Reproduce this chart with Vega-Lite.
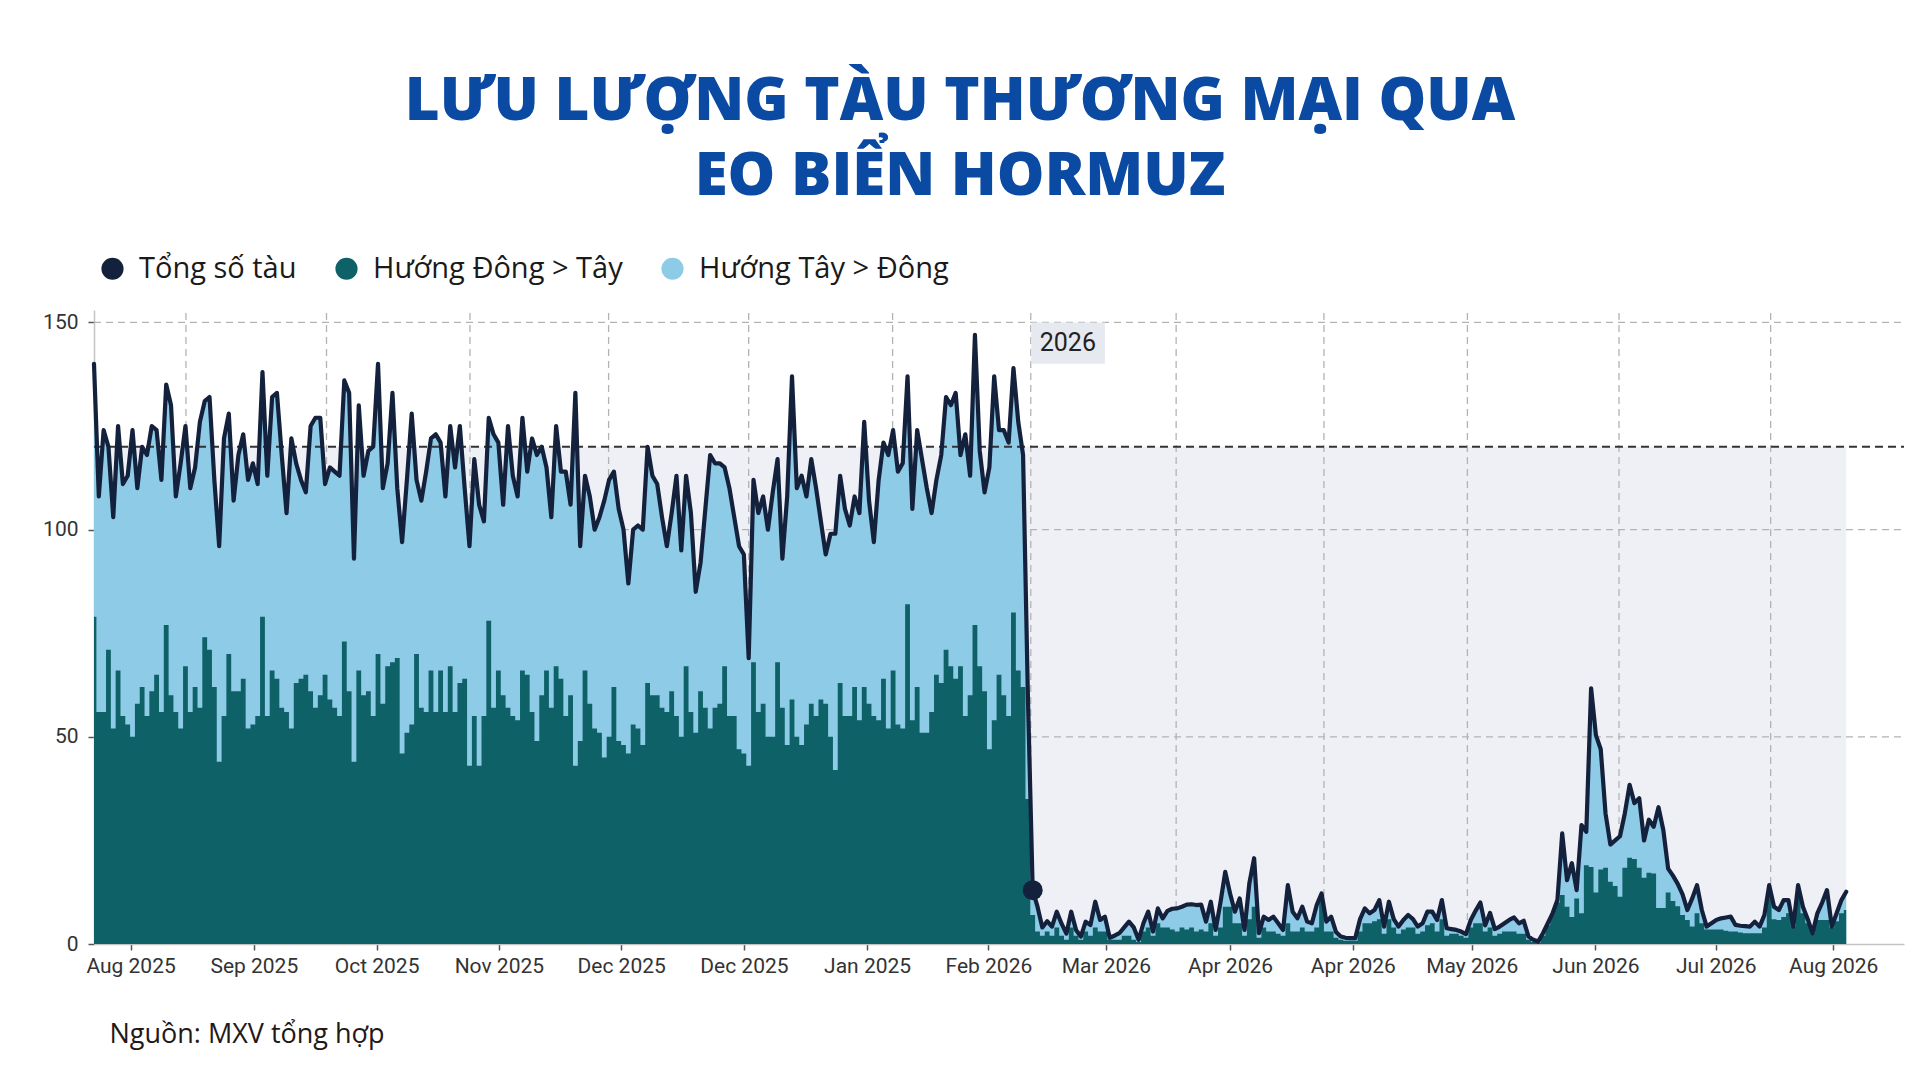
{
"$schema": "https://vega.github.io/schema/vega-lite/v6.json",
"width": 1810, "height": 634,
"autosize": {"type": "none"},
"padding": {"left": 94, "top": 310, "right": 16, "bottom": 136},
"background": "white",
"title": {"text": ["LƯU LƯỢNG TÀU THƯƠNG MẠI QUA", "EO BIỂN HORMUZ"], "font": "Open Sans", "fontSize": 60, "fontWeight": 800, "color": "#0b4aa2", "anchor": "middle", "frame": "group", "dx": -39, "dy": 14, "lineHeight": 75, "offset": 60},
"config": {"view": {"stroke": null}},
"datasets": {
"s": [
{"i":0,"e":79,"t":140},{"i":1,"e":56,"t":108},{"i":2,"e":56,"t":124},{"i":3,"e":71,"t":120},{"i":4,"e":52,"t":103},{"i":5,"e":66,"t":125},{"i":6,"e":55,"t":111},{"i":7,"e":53,"t":113},{"i":8,"e":50,"t":124},{"i":9,"e":58,"t":110},
{"i":10,"e":62,"t":120},{"i":11,"e":55,"t":118},{"i":12,"e":61,"t":125},{"i":13,"e":65,"t":124},{"i":14,"e":56,"t":112},{"i":15,"e":77,"t":135},{"i":16,"e":60,"t":130},{"i":17,"e":56,"t":108},{"i":18,"e":52,"t":116},{"i":19,"e":67,"t":125},
{"i":20,"e":56,"t":110},{"i":21,"e":62,"t":115},{"i":22,"e":57,"t":126},{"i":23,"e":74,"t":131},{"i":24,"e":71,"t":132},{"i":25,"e":62,"t":112},{"i":26,"e":44,"t":96},{"i":27,"e":55,"t":122},{"i":28,"e":70,"t":128},{"i":29,"e":61,"t":107},
{"i":30,"e":61,"t":118},{"i":31,"e":64,"t":123},{"i":32,"e":52,"t":112},{"i":33,"e":53,"t":116},{"i":34,"e":55,"t":111},{"i":35,"e":79,"t":138},{"i":36,"e":55,"t":113},{"i":37,"e":66,"t":132},{"i":38,"e":64,"t":133},{"i":39,"e":57,"t":118},
{"i":40,"e":56,"t":104},{"i":41,"e":52,"t":122},{"i":42,"e":63,"t":116},{"i":43,"e":64,"t":112},{"i":44,"e":65,"t":109},{"i":45,"e":61,"t":125},{"i":46,"e":57,"t":127},{"i":47,"e":60,"t":127},{"i":48,"e":65,"t":111},{"i":49,"e":59,"t":115},
{"i":50,"e":57,"t":114},{"i":51,"e":55,"t":113},{"i":52,"e":73,"t":136},{"i":53,"e":61,"t":133},{"i":54,"e":44,"t":93},{"i":55,"e":66,"t":130},{"i":56,"e":60,"t":113},{"i":57,"e":61,"t":119},{"i":58,"e":55,"t":120},{"i":59,"e":70,"t":140},
{"i":60,"e":58,"t":110},{"i":61,"e":67,"t":116},{"i":62,"e":68,"t":133},{"i":63,"e":69,"t":110},{"i":64,"e":46,"t":97},{"i":65,"e":51,"t":112},{"i":66,"e":53,"t":128},{"i":67,"e":70,"t":112},{"i":68,"e":57,"t":107},{"i":69,"e":56,"t":114},
{"i":70,"e":66,"t":122},{"i":71,"e":56,"t":123},{"i":72,"e":66,"t":121},{"i":73,"e":56,"t":108},{"i":74,"e":67,"t":125},{"i":75,"e":56,"t":115},{"i":76,"e":63,"t":125},{"i":77,"e":64,"t":110},{"i":78,"e":43,"t":96},{"i":79,"e":55,"t":117},
{"i":80,"e":43,"t":106},{"i":81,"e":55,"t":102},{"i":82,"e":78,"t":127},{"i":83,"e":57,"t":123},{"i":84,"e":66,"t":121},{"i":85,"e":60,"t":106},{"i":86,"e":57,"t":125},{"i":87,"e":55,"t":113},{"i":88,"e":54,"t":108},{"i":89,"e":66,"t":127},
{"i":90,"e":65,"t":114},{"i":91,"e":56,"t":122},{"i":92,"e":49,"t":118},{"i":93,"e":60,"t":120},{"i":94,"e":66,"t":115},{"i":95,"e":57,"t":103},{"i":96,"e":67,"t":125},{"i":97,"e":64,"t":114},{"i":98,"e":55,"t":114},{"i":99,"e":60,"t":106},
{"i":100,"e":43,"t":133},{"i":101,"e":49,"t":96},{"i":102,"e":66,"t":113},{"i":103,"e":58,"t":108},{"i":104,"e":52,"t":100},{"i":105,"e":51,"t":103},{"i":106,"e":45,"t":107},{"i":107,"e":50,"t":112},{"i":108,"e":62,"t":114},{"i":109,"e":49,"t":105},
{"i":110,"e":48,"t":100},{"i":111,"e":46,"t":87},{"i":112,"e":53,"t":100},{"i":113,"e":52,"t":101},{"i":114,"e":48,"t":100},{"i":115,"e":63,"t":120},{"i":116,"e":60,"t":113},{"i":117,"e":60,"t":111},{"i":118,"e":57,"t":103},{"i":119,"e":56,"t":96},
{"i":120,"e":61,"t":104},{"i":121,"e":55,"t":113},{"i":122,"e":50,"t":95},{"i":123,"e":67,"t":113},{"i":124,"e":56,"t":104},{"i":125,"e":51,"t":85},{"i":126,"e":61,"t":92},{"i":127,"e":57,"t":105},{"i":128,"e":52,"t":118},{"i":129,"e":57,"t":116},
{"i":130,"e":58,"t":116},{"i":131,"e":67,"t":115},{"i":132,"e":55,"t":110},{"i":133,"e":55,"t":103},{"i":134,"e":47,"t":96},{"i":135,"e":46,"t":94},{"i":136,"e":43,"t":69},{"i":137,"e":68,"t":112},{"i":138,"e":56,"t":104},{"i":139,"e":58,"t":108},
{"i":140,"e":50,"t":100},{"i":141,"e":50,"t":109},{"i":142,"e":68,"t":117},{"i":143,"e":57,"t":93},{"i":144,"e":48,"t":108},{"i":145,"e":59,"t":137},{"i":146,"e":50,"t":110},{"i":147,"e":48,"t":113},{"i":148,"e":53,"t":108},{"i":149,"e":58,"t":117},
{"i":150,"e":55,"t":110},{"i":151,"e":59,"t":102},{"i":152,"e":58,"t":94},{"i":153,"e":50,"t":99},{"i":154,"e":42,"t":99},{"i":155,"e":63,"t":113},{"i":156,"e":55,"t":105},{"i":157,"e":55,"t":101},{"i":158,"e":62,"t":108},{"i":159,"e":54,"t":104},
{"i":160,"e":62,"t":126},{"i":161,"e":58,"t":107},{"i":162,"e":55,"t":97},{"i":163,"e":54,"t":112},{"i":164,"e":64,"t":121},{"i":165,"e":52,"t":118},{"i":166,"e":66,"t":124},{"i":167,"e":53,"t":114},{"i":168,"e":52,"t":116},{"i":169,"e":82,"t":137},
{"i":170,"e":54,"t":105},{"i":171,"e":62,"t":124},{"i":172,"e":51,"t":117},{"i":173,"e":51,"t":110},{"i":174,"e":56,"t":104},{"i":175,"e":65,"t":112},{"i":176,"e":63,"t":118},{"i":177,"e":71,"t":132},{"i":178,"e":67,"t":130},{"i":179,"e":64,"t":133},
{"i":180,"e":67,"t":118},{"i":181,"e":55,"t":123},{"i":182,"e":60,"t":113},{"i":183,"e":77,"t":147},{"i":184,"e":67,"t":119},{"i":185,"e":61,"t":109},{"i":186,"e":47,"t":115},{"i":187,"e":54,"t":137},{"i":188,"e":65,"t":124},{"i":189,"e":60,"t":124},
{"i":190,"e":55,"t":121},{"i":191,"e":80,"t":139},{"i":192,"e":66,"t":126},{"i":193,"e":62,"t":118},{"i":194,"e":35,"t":60},{"i":195,"e":7,"t":13},{"i":196,"e":3,"t":9},{"i":197,"e":2,"t":4},{"i":198,"e":3,"t":5.5},{"i":199,"e":2,"t":4.2},
{"i":200,"e":4,"t":7.8},{"i":201,"e":2,"t":4.9},{"i":202,"e":1,"t":2.5},{"i":203,"e":4,"t":7.8},{"i":204,"e":2,"t":3.4},{"i":205,"e":1,"t":1.8},{"i":206,"e":3,"t":5.4},{"i":207,"e":2,"t":4.6},{"i":208,"e":4,"t":10.2},{"i":209,"e":3,"t":5.8},
{"i":210,"e":3,"t":6.6},{"i":211,"e":1,"t":1.5},{"i":212,"e":1,"t":2},{"i":213,"e":1,"t":2.6},{"i":214,"e":2,"t":4},{"i":215,"e":2,"t":5.4},{"i":216,"e":1,"t":4},{"i":217,"e":0.5,"t":1},{"i":218,"e":3,"t":5},{"i":219,"e":4,"t":7.8},
{"i":220,"e":2,"t":3},{"i":221,"e":5,"t":8.6},{"i":222,"e":4,"t":6.2},{"i":223,"e":4,"t":8},{"i":224,"e":3.5,"t":8.5},{"i":225,"e":3,"t":8.6},{"i":226,"e":4,"t":9},{"i":227,"e":3.5,"t":9.5},{"i":228,"e":4,"t":9.6},{"i":229,"e":3,"t":9.4},
{"i":230,"e":3.5,"t":9.5},{"i":231,"e":3,"t":5.4},{"i":232,"e":5,"t":10.2},{"i":233,"e":2,"t":3.4},{"i":234,"e":4,"t":10},{"i":235,"e":9,"t":17.4},{"i":236,"e":9,"t":12.2},{"i":237,"e":5,"t":7.8},{"i":238,"e":5,"t":11},{"i":239,"e":2,"t":3.4},
{"i":240,"e":6,"t":14.6},{"i":241,"e":9,"t":20.7},{"i":242,"e":1.5,"t":2.6},{"i":243,"e":4,"t":6.6},{"i":244,"e":3,"t":5.8},{"i":245,"e":3,"t":6.6},{"i":246,"e":2.5,"t":5},{"i":247,"e":2,"t":3.4},{"i":248,"e":5,"t":14.2},{"i":249,"e":3,"t":7.8},
{"i":250,"e":3,"t":6.2},{"i":251,"e":4,"t":9},{"i":252,"e":3,"t":5.4},{"i":253,"e":3,"t":5},{"i":254,"e":4,"t":9.4},{"i":255,"e":11,"t":12.2},{"i":256,"e":3,"t":5.4},{"i":257,"e":3,"t":6.6},{"i":258,"e":1.5,"t":2.9},{"i":259,"e":1,"t":1.8},
{"i":260,"e":0.8,"t":1.5},{"i":261,"e":0.8,"t":1.4},{"i":262,"e":0.8,"t":1.4},{"i":263,"e":3,"t":6},{"i":264,"e":5,"t":8.6},{"i":265,"e":5,"t":7.4},{"i":266,"e":5.5,"t":8.2},{"i":267,"e":6,"t":10.6},{"i":268,"e":2.5,"t":4.2},{"i":269,"e":6,"t":10.2},
{"i":270,"e":4,"t":6},{"i":271,"e":2.5,"t":4.2},{"i":272,"e":3.5,"t":5.8},{"i":273,"e":4,"t":7},{"i":274,"e":4,"t":6},{"i":275,"e":2.5,"t":4.2},{"i":276,"e":3,"t":5},{"i":277,"e":4.5,"t":7.8},{"i":278,"e":5,"t":7.8},{"i":279,"e":3,"t":5.8},
{"i":280,"e":6,"t":10.6},{"i":281,"e":2,"t":3.8},{"i":282,"e":2.5,"t":3.6},{"i":283,"e":2.5,"t":3.4},{"i":284,"e":2,"t":3},{"i":285,"e":1.5,"t":2.4},{"i":286,"e":4,"t":5.8},{"i":287,"e":5,"t":8},{"i":288,"e":5,"t":10},{"i":289,"e":3,"t":4.5},
{"i":290,"e":4,"t":7.5},{"i":291,"e":2,"t":3.6},{"i":292,"e":2.5,"t":4.2},{"i":293,"e":3,"t":5},{"i":294,"e":3,"t":5.8},{"i":295,"e":3,"t":6.4},{"i":296,"e":2.5,"t":5},{"i":297,"e":2.5,"t":5.6},{"i":298,"e":1,"t":1.8},{"i":299,"e":0.5,"t":1},
{"i":300,"e":0.3,"t":0.6},{"i":301,"e":2,"t":2.6},{"i":302,"e":4.5,"t":5},{"i":303,"e":7.4,"t":7.4},{"i":304,"e":10,"t":10.6},{"i":305,"e":11.8,"t":26.7},{"i":306,"e":9,"t":15.4},{"i":307,"e":6.5,"t":19.5},{"i":308,"e":11,"t":13},{"i":309,"e":7.4,"t":28.7},
{"i":310,"e":19,"t":27.1},{"i":311,"e":18.6,"t":61.7},{"i":312,"e":12.4,"t":50.4},{"i":313,"e":18,"t":47},{"i":314,"e":18.4,"t":31.5},{"i":315,"e":15,"t":24},{"i":316,"e":14,"t":25},{"i":317,"e":11.4,"t":26},{"i":318,"e":18.4,"t":31.5},{"i":319,"e":20.8,"t":38.4},
{"i":320,"e":20.5,"t":34},{"i":321,"e":18.4,"t":35.2},{"i":322,"e":16,"t":25},{"i":323,"e":17.2,"t":30},{"i":324,"e":17,"t":28.3},{"i":325,"e":8.7,"t":33},{"i":326,"e":8.7,"t":27.5},{"i":327,"e":12.4,"t":18.2},{"i":328,"e":10.4,"t":16.5},{"i":329,"e":9.1,"t":14.5},
{"i":330,"e":7,"t":12},{"i":331,"e":5.8,"t":8.2},{"i":332,"e":4.2,"t":11},{"i":333,"e":7.4,"t":14.2},{"i":334,"e":5,"t":8.2},{"i":335,"e":3.5,"t":4.2},{"i":336,"e":3.5,"t":5},{"i":337,"e":3.5,"t":5.8},{"i":338,"e":3.5,"t":6.2},{"i":339,"e":3.2,"t":6.4},
{"i":340,"e":3,"t":6.6},{"i":341,"e":3,"t":4.6},{"i":342,"e":2.8,"t":4.4},{"i":343,"e":2.6,"t":4.3},{"i":344,"e":2.6,"t":4.2},{"i":345,"e":2.6,"t":5.4},{"i":346,"e":2.6,"t":4.2},{"i":347,"e":4,"t":7},{"i":348,"e":12.4,"t":14.2},{"i":349,"e":6,"t":9},
{"i":350,"e":5.8,"t":8.2},{"i":351,"e":6.5,"t":10.6},{"i":352,"e":7.4,"t":10.6},{"i":353,"e":4.2,"t":4.2},{"i":354,"e":11.6,"t":14.2},{"i":355,"e":7.4,"t":9},{"i":356,"e":5,"t":6},{"i":357,"e":2.6,"t":2.6},{"i":358,"e":5.8,"t":7.4},{"i":359,"e":5.8,"t":10},
{"i":360,"e":5.8,"t":13},{"i":361,"e":4,"t":4.2},{"i":362,"e":5.5,"t":7.4},{"i":363,"e":7.4,"t":10.6},{"i":364,"e":8.2,"t":12.6}
]
},
"layer": [
{
"data": {"values": [{"i": 0, "i2": 364, "y0": 0, "y1": 120}]},
"mark": {"type": "rect", "color": "#eef0f5"},
"encoding": {
"x": {"field": "i", "type": "quantitative", "scale": {"domain": [0, 376], "nice": false, "zero": false},
"axis": {"title": "Nguồn: MXV tổng hợp", "titleAnchor": "start", "titleAlign": "left", "titleX": 15, "titleY": 98, "titleBaseline": "alphabetic", "titleFont": "Open Sans", "titleFontSize": 27, "titleFontWeight": 400, "titleColor": "#231815",
"values": [7.6, 33.2, 58.7, 84.1, 109.5, 135.0, 160.6, 185.8, 210.2, 236.0, 261.5, 286.2, 311.9, 336.9, 361.3],
"labelExpr": "['Aug 2025','Sep 2025','Oct 2025','Nov 2025','Dec 2025','Dec 2025','Jan 2025','Feb 2026','Mar 2026','Apr 2026','Apr 2026','May 2026','Jun 2026','Jul 2026','Aug 2026'][indexof([7.6, 33.2, 58.7, 84.1, 109.5, 135.0, 160.6, 185.8, 210.2, 236.0, 261.5, 286.2, 311.9, 336.9, 361.3], datum.value)]",
"labelFont": "Roboto", "labelFontSize": 21, "labelColor": "#333333", "labelPadding": 5, "labelFlush": false, "labelOverlap": false,
"tickSize": 6, "tickColor": "#555555", "tickWidth": 1.5, "domainColor": "#c4c4c4", "domainWidth": 1.5, "grid": false}},
"x2": {"field": "i2"},
"y": {"field": "y0", "type": "quantitative", "scale": {"domain": [0, 153], "nice": false, "zero": true},
"axis": {"title": null, "values": [0, 50, 100, 150], "labelFont": "Roboto", "labelFontSize": 21, "labelColor": "#333333", "labelPadding": 10, "tickSize": 6, "tickColor": "#555555", "tickWidth": 1.5, "domainColor": "#c4c4c4", "domainWidth": 1.5, "grid": false}},
"y2": {"field": "y1"}
}
},
{
"data": {"values": [{"i": 19.1}, {"i": 48.3}, {"i": 78.1}, {"i": 106.9}, {"i": 136.0}, {"i": 165.9}, {"i": 194.6}, {"i": 224.8}, {"i": 255.5}, {"i": 285.3}, {"i": 316.8}, {"i": 348.3}]},
"mark": {"type": "rule", "color": "#b3b3b3", "strokeWidth": 1.3, "strokeDash": [7, 5]},
"encoding": {"x": {"field": "i", "type": "quantitative"}, "y": {"datum": 0}, "y2": {"datum": 153}}
},
{
"data": {"values": [{"v": 50}, {"v": 100}, {"v": 150}]},
"mark": {"type": "rule", "color": "#b3b3b3", "strokeWidth": 1.3, "strokeDash": [7, 5]},
"encoding": {"y": {"field": "v", "type": "quantitative"}, "x": {"datum": 0}, "x2": {"datum": 376}}
},
{
"data": {"name": "s"},
"mark": {"type": "area", "interpolate": "linear"},
"encoding": {
"x": {"field": "i", "type": "quantitative"},
"y": {"field": "t", "type": "quantitative"},
"color": {"datum": "Hướng Tây > Đông", "type": "nominal",
"scale": {"domain": ["Tổng số tàu", "Hướng Đông > Tây", "Hướng Tây > Đông"], "range": ["#14213d", "#0f6168", "#8ecbe6"]},
"legend": {"orient": "none", "legendX": 4, "legendY": -56, "direction": "horizontal", "title": null, "symbolType": "circle", "symbolSize": 490, "symbolStrokeWidth": 0, "labelFont": "Open Sans", "labelFontSize": 29, "labelColor": "#1a1a1a", "labelOffset": 12, "labelLimit": 0, "columnPadding": 35,
"encode": {"symbols": {"update": {"fill": {"scale": "color", "field": "value"}, "stroke": {"value": "transparent"}, "opacity": {"value": 1}, "fillOpacity": {"value": 1}}}}}
}
}
},
{
"data": {"name": "s"},
"mark": {"type": "area", "interpolate": "step", "clip": true},
"encoding": {
"x": {"field": "i", "type": "quantitative"},
"y": {"field": "e", "type": "quantitative"},
"color": {"datum": "Hướng Đông > Tây", "type": "nominal"}
}
},
{
"data": {"values": [{"v": 120}]},
"mark": {"type": "rule", "color": "#333333", "strokeWidth": 1.8, "strokeDash": [8, 5]},
"encoding": {"y": {"field": "v", "type": "quantitative"}, "x": {"datum": 0}, "x2": {"datum": 376}}
},
{
"data": {"name": "s"},
"mark": {"type": "line", "interpolate": "linear", "strokeWidth": 4.2, "strokeJoin": "round", "strokeCap": "round"},
"encoding": {
"x": {"field": "i", "type": "quantitative"},
"y": {"field": "t", "type": "quantitative"},
"color": {"datum": "Tổng số tàu", "type": "nominal"}
}
},
{
"data": {"values": [{"i": 194.7, "i2": 210, "y0": 140, "y1": 150}]},
"mark": {"type": "rect", "color": "#e6e9f0"},
"encoding": {"x": {"field": "i", "type": "quantitative"}, "x2": {"field": "i2"}, "y": {"field": "y0", "type": "quantitative"}, "y2": {"field": "y1"}}
},
{
"data": {"values": [{"i": 202.3, "v": 145, "label": "2026"}]},
"mark": {"type": "text", "font": "Roboto", "fontSize": 25, "color": "#222222", "align": "center", "baseline": "middle"},
"encoding": {"x": {"field": "i", "type": "quantitative"}, "y": {"field": "v", "type": "quantitative"}, "text": {"field": "label"}}
},
{
"data": {"values": [{"i": 195, "v": 13}]},
"mark": {"type": "point", "filled": true, "size": 400, "color": "#14213d", "opacity": 1},
"encoding": {"x": {"field": "i", "type": "quantitative"}, "y": {"field": "v", "type": "quantitative"}}
}
]
}
